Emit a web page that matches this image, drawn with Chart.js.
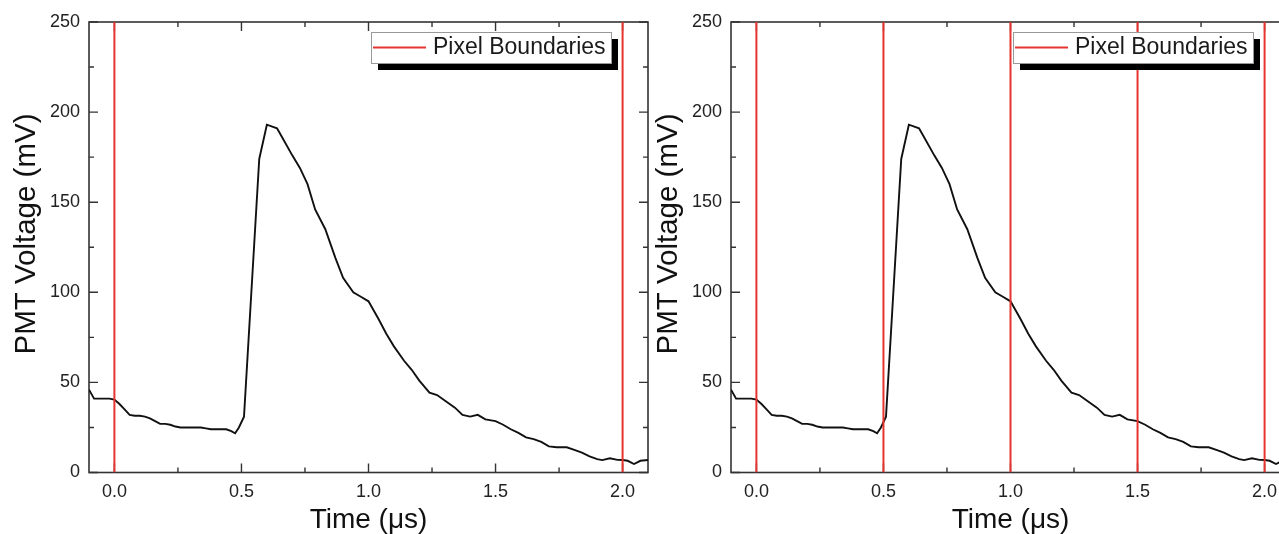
<!DOCTYPE html>
<html><head><meta charset="utf-8">
<script src="https://cdn.jsdelivr.net/npm/chart.js@4.4.0/dist/chart.umd.min.js"></script>
<style>
html,body{margin:0;padding:0;background:#fff;overflow:hidden;width:1279px;height:534px;}
#wrap{position:relative;width:1279px;height:534px;overflow:hidden;background:#fff;}
canvas{position:absolute;top:0;}
#c1{left:0px}
#c2{left:642px}
</style></head><body>
<div id="wrap"><canvas id="c1" width="660" height="534"></canvas><canvas id="c2" width="660" height="534"></canvas></div>
<script>
// ---- data ----
const timeUs = [-0.10,-0.08,-0.06,-0.04,-0.02,0.00,0.02,0.04,0.06,0.08,0.10,0.12,0.14,0.16,0.18,0.20,0.22,0.24,0.26,0.28,0.30,0.32,0.34,0.36,0.38,0.40,0.42,0.44,0.46,0.475,0.49,0.51,0.57,0.60,0.64,0.66,0.70,0.73,0.76,0.79,0.83,0.87,0.90,0.94,0.97,1.00,1.04,1.07,1.10,1.14,1.17,1.20,1.24,1.27,1.30,1.34,1.37,1.40,1.43,1.46,1.50,1.53,1.56,1.59,1.62,1.65,1.68,1.71,1.74,1.78,1.81,1.84,1.87,1.90,1.92,1.95,1.98,2.00,2.02,2.045,2.07,2.10];
const voltageMv = [46,41,41,41,41,40.5,38,35,32,31.5,31.5,31,30,28.5,27,27,26.5,25.5,25,25,25,25,25,24.5,24,24,24,24,23,21.8,25,31,174,193,191,186,176,169,160,146,135,119,108,100,97.5,95,85,77,70,62,57,51,44.3,43,40,36,32,31,32,29.5,28.5,26.5,24,22,19.5,18.5,17,14.5,14,14,12.5,11,9,7.4,6.9,7.9,7,6.9,6.5,4.7,6.5,6.9];
const boundariesLeft = [0.0, 2.0];
const boundariesRight = [0.0, 0.5, 1.0, 1.5, 2.0];
const xTickLabels = [0.0, 0.5, 1.0, 1.5, 2.0];
const xMinorTicks = [0.25, 0.75, 1.25, 1.75];
const yTickLabels = [0, 50, 100, 150, 200, 250];
const yMinorTicks = [25, 75, 125, 175, 225];
const legendLabel = 'Pixel Boundaries';
const xTitle = 'Time (\u03bcs)';
const yTitle = 'PMT Voltage (mV)';
const xRange = [-0.1, 2.1];
const yRange = [0, 250];

const FONT = "'Liberation Sans', Arial, Helvetica, sans-serif";
const RED = 'rgb(230,52,48)';

function decoPlugin(){
  return {
    id: 'deco',
    beforeDatasetsDraw(chart){
      const {ctx, chartArea:a, scales:{x, y}} = chart;
      ctx.save();
      ctx.strokeStyle = '#333';
      ctx.lineWidth = 1.4;
      const xt = (vals, len) => vals.forEach(v => {
        const p = x.getPixelForValue(v);
        ctx.beginPath();
        ctx.moveTo(p, a.bottom); ctx.lineTo(p, a.bottom - len);
        ctx.moveTo(p, a.top); ctx.lineTo(p, a.top + len);
        ctx.stroke();
      });
      const yt = (vals, len) => vals.forEach(v => {
        const p = y.getPixelForValue(v);
        ctx.beginPath();
        ctx.moveTo(a.left, p); ctx.lineTo(a.left + len, p);
        ctx.moveTo(a.right, p); ctx.lineTo(a.right - len, p);
        ctx.stroke();
      });
      xt(xTickLabels, 9); xt(xMinorTicks, 5);
      yt(yTickLabels, 9); yt(yMinorTicks, 5);
      ctx.lineWidth = 1.6;
      ctx.strokeRect(a.left, a.top, a.right - a.left, a.bottom - a.top);
      ctx.restore();
    },
    afterDraw(chart){
      const {ctx, chartArea:a} = chart;
      ctx.save();
      // legend with drop shadow
      const bw = 240, bh = 31;
      const bx = a.right - 37 - bw, by = a.top + 10;
      ctx.fillStyle = '#000';
      ctx.fillRect(bx + 7, by + 7, bw, bh);
      ctx.fillStyle = '#fff';
      ctx.fillRect(bx, by, bw, bh);
      ctx.strokeStyle = '#999';
      ctx.lineWidth = 1;
      ctx.strokeRect(bx + 0.5, by + 0.5, bw, bh);
      ctx.strokeStyle = RED;
      ctx.lineWidth = 2;
      ctx.beginPath(); ctx.moveTo(bx + 2, by + 15.5); ctx.lineTo(bx + 55, by + 15.5); ctx.stroke();
      ctx.fillStyle = '#1a1a1a';
      ctx.font = '23px ' + FONT;
      ctx.textAlign = 'left';
      ctx.textBaseline = 'middle';
      ctx.fillText(legendLabel, bx + 62, by + 16);
      // y axis title
      ctx.translate(27, 234);
      ctx.rotate(-Math.PI / 2);
      ctx.font = '29.5px ' + FONT;
      ctx.fillStyle = '#111';
      ctx.textAlign = 'center';
      ctx.textBaseline = 'middle';
      ctx.fillText(yTitle, 0, 0);
      ctx.restore();
    }
  };
}

function makeChart(id, boundaries){
  const pulse = timeUs.map((t, i) => ({x: t, y: voltageMv[i]}));
  const datasets = [{
    label: 'PMT signal',
    data: pulse,
    borderColor: '#111',
    borderWidth: 1.9,
    pointRadius: 0,
    showLine: true,
    tension: 0,
    order: 1
  }];
  boundaries.forEach(b => datasets.push({
    label: legendLabel,
    data: [{x: b, y: yRange[0]}, {x: b, y: yRange[1]}],
    borderColor: RED,
    borderWidth: 2,
    pointRadius: 0,
    showLine: true,
    order: 0
  }));
  return new Chart(document.getElementById(id), {
    type: 'scatter',
    data: {datasets},
    options: {
      responsive: false,
      animation: false,
      devicePixelRatio: 1,
      layout: {padding: {left: 0, top: 22, right: 12, bottom: 0}},
      plugins: {legend: {display: false}, tooltip: {enabled: false}},
      scales: {
        x: {
          type: 'linear', min: xRange[0], max: xRange[1],
          afterBuildTicks: s => { s.ticks = xTickLabels.map(v => ({value: v})); },
          afterFit: s => { s.height = 61.5; },
          grid: {display: false, drawTicks: false},
          border: {display: false},
          ticks: {
            autoSkip: false, maxRotation: 0, padding: 9, color: '#222',
            font: {family: FONT, size: 18},
            callback: v => Number(v).toFixed(1)
          },
          title: {display: true, text: xTitle, color: '#111', padding: 0,
                  font: {family: FONT, size: 28, lineHeight: 1}}
        },
        y: {
          type: 'linear', min: yRange[0], max: yRange[1],
          afterBuildTicks: s => { s.ticks = yTickLabels.map(v => ({value: v})); },
          afterFit: s => { s.width = 89; },
          grid: {display: false, drawTicks: false},
          border: {display: false},
          ticks: {
            autoSkip: false, padding: 9, color: '#222',
            font: {family: FONT, size: 18}
          },
          title: {display: false}
        }
      }
    },
    plugins: [decoPlugin()]
  });
}

makeChart('c1', boundariesLeft);
makeChart('c2', boundariesRight);
</script>
</body></html>
